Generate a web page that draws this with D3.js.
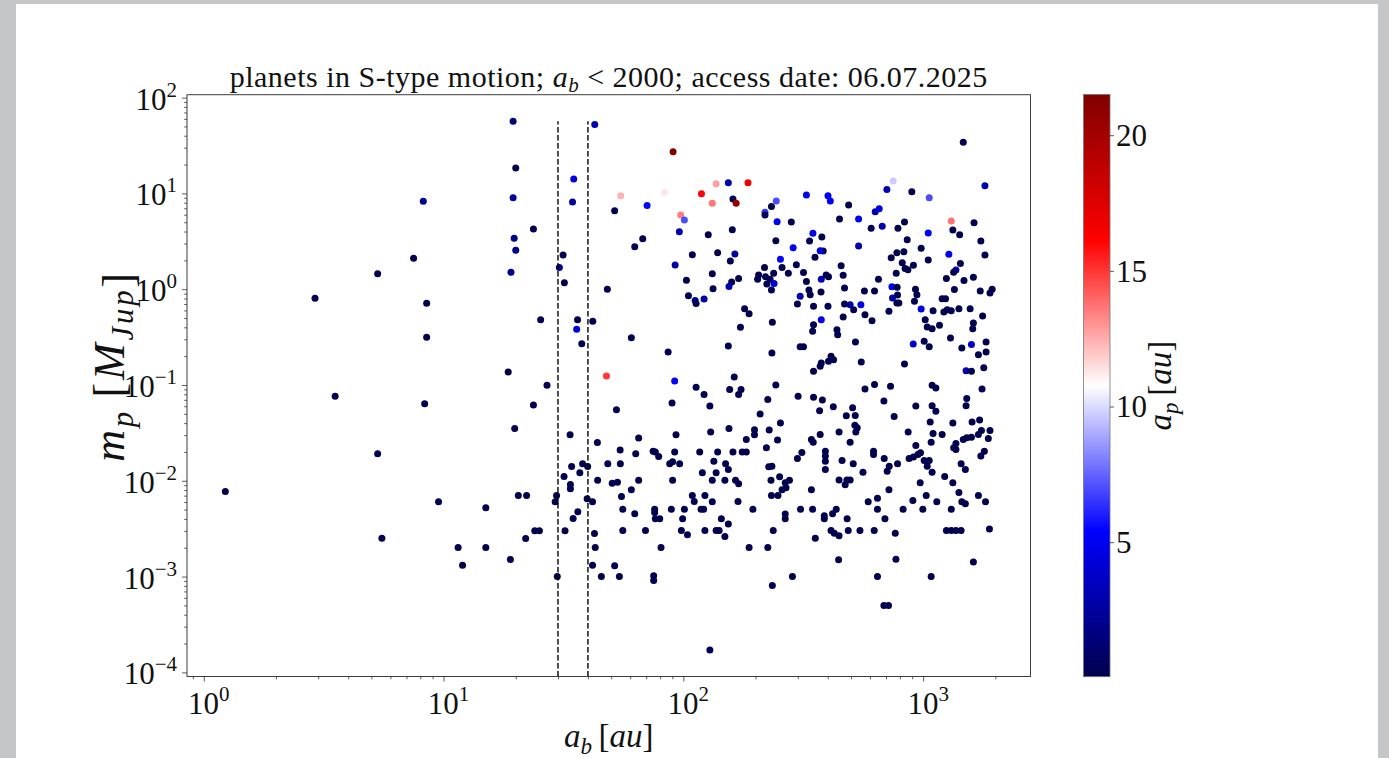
<!DOCTYPE html>
<html>
<head>
<meta charset="utf-8">
<script src="https://cdn.jsdelivr.net/npm/d3@7"></script>
<style>
  html, body { margin: 0; padding: 0; background: #c4c6c8; }
  svg { display: block; }
  text { font-family: "Liberation Serif", "DejaVu Serif", serif; fill: #111; }
</style>
</head>
<body>
<svg id="chart" width="1389" height="758"></svg>
<script>
// Binary separation a_b [au] of each S-type planet host
const binarySeparation = [
  1.23, 2.91, 3.53, 5.31, 5.31, 5.53, 7.50, 8.23, 8.50, 8.50,
  8.34, 9.53, 11.5, 12.0, 15.0, 15.0, 18.6, 19.0, 19.5, 20.0,
  19.5, 19.7, 20.0, 19.1, 19.8, 20.5, 22.2, 22.0, 23.7, 23.7,
  24.0, 25.1, 25.4, 27.0, 29.6, 29.2, 29.8, 31.5, 30.4, 31.9,
  31.8, 32.1, 34.2, 33.8, 33.8, 33.7, 34.9, 34.5, 36.2, 35.9,
  37.7, 36.3, 34.7, 37.0, 38.0, 39.9, 39.7, 41.8, 41.9, 42.7,
  42.6, 42.9, 41.8, 43.8, 43.9, 45.5, 90.6, 54.8, 51.7, 70.6,
  83.6, 119, 137, 154, 186, 132, 161, 166, 97.5, 101,
  96.2, 67.7, 62.7, 127, 160, 109, 139, 164, 157, 92.4,
  132, 103, 48.2, 133, 170, 159, 155, 233, 244, 219,
  219, 246, 282, 326, 243, 287, 336, 347, 254, 218,
  258, 296, 354, 206, 220, 238, 230, 204, 223, 239,
  274, 317, 326, 233, 334, 1470, 1810, 750, 706, 897,
  1060, 401, 410, 489, 631, 656, 448, 538, 836, 607,
  675, 785, 1310, 1630, 1330, 1420, 1050, 858, 378, 1740,
  538, 981, 383, 372, 1280, 1810, 777, 831, 736, 1050,
  818, 455, 1430, 1370, 1340, 841, 864, 911, 772, 464,
  394, 403, 376, 651, 1250, 1480, 1620, 470, 741, 779,
  569, 627, 929, 1350, 1730, 1940, 375, 105, 112, 113,
  122, 307, 338, 299, 349, 180, 188, 235, 173, 60.7,
  349, 346, 154, 86.4, 234, 307, 317, 349, 47.8, 92.0,
  163, 113, 122, 156, 174, 170, 243, 225, 301, 349,
  89.7, 129, 52.6, 209, 254, 130, 155, 198, 198, 228,
  93.2, 65.1, 183, 247, 342, 348, 54.5, 63.3, 74.8, 76.4,
  78.9, 92.0, 117, 139, 161, 176, 183, 222, 312, 299,
  48.4, 54.6, 87.7, 90.2, 96.5, 134, 150, 154, 137, 120,
  227, 234, 252, 50.5, 53.1, 65.1, 90.2, 132, 149, 165,
  170, 232, 277, 266, 782, 942, 1900, 401, 470, 496,
  513, 550, 745, 777, 792, 720, 920, 981, 1100, 1200,
  1240, 1220, 1260, 1310, 1410, 1570, 1770, 376, 464, 572,
  612, 1020, 1040, 1090, 1170, 1620, 1610, 437, 440, 522,
  909, 1010, 1060, 1300, 1450, 1590, 1830, 1700, 1830, 413,
  423, 403, 376, 372, 552, 836, 1510, 1590, 1790, 627,
  572, 731, 1090, 1130, 1760, 380, 686, 1520, 1510, 932,
  1090, 1130, 422, 370, 508, 521, 478, 757, 1070, 1330,
  1600, 1720, 519, 531, 524, 446, 372, 866, 1100, 1200,
  1700, 1750, 1900, 1870, 1470, 1520, 1590, 1080, 496, 932,
  1370, 1340, 1370, 391, 391, 391, 391, 621, 621, 688,
  459, 511, 874, 911, 951, 975, 1010, 1060, 1040, 1090,
  722, 708, 782, 561, 1440, 1500, 1740, 1800, 1230, 446,
  481, 496, 972, 1330, 258, 268, 55.2, 60.7, 55.9, 62.7,
  75.9, 75.9, 76.4, 79.7, 89.1, 101, 99.3, 109, 111, 123,
  132, 118.5, 121.5, 144, 154, 169, 195, 233, 248, 266,
  266, 308, 342, 346, 355, 55.9, 69.5, 98.1, 104, 123,
  137, 141, 149, 237, 80.7, 188, 225, 51.7, 54.1, 75.2,
  75.2, 285, 235, 129, 473, 720, 1410, 1030, 1700, 1820,
  1450, 1500, 1140, 906, 997, 1310, 825, 645, 590, 645,
  693, 434, 419, 387, 387, 482, 413, 426, 446, 487,
  545, 625, 765, 1250, 1310, 1370, 1440, 1890, 444, 770,
  1620, 645, 1080, 686, 717
];

// Planet mass m_p [M_Jup]
const planetMass = [
  0.00773, 0.804, 0.0764, 1.45, 0.0191, 0.00252, 2.10, 8.26, 0.713, 0.315,
  0.0639, 0.00604, 0.00201, 0.00131, 0.00522, 0.00201, 0.137, 0.00151, 56.8, 18.4,
  9.00, 3.40, 2.55, 1.50, 0.0351, 0.00702, 0.00702, 0.00250, 4.25, 0.0620,
  0.00301, 0.00301, 0.481, 0.0995, 0.00702, 0.00604, 0.00100, 2.27, 1.68, 1.17,
  0.0111, 0.00301, 0.0141, 0.00914, 0.00825, 0.0302, 14.1, 8.12, 0.481, 0.382,
  0.270, 0.00475, 0.00404, 0.0121, 0.0151, 0.0141, 0.00648, 0.00604, 0.463, 52.5,
  0.00282, 0.00201, 0.00131, 0.0251, 0.0101, 0.00100, 27.2, 9.45, 6.59, 7.50,
  10.3, 9.91, 12.6, 12.9, 12.9, 7.87, 8.73, 7.87, 5.94, 5.27,
  3.98, 3.36, 2.78, 3.70, 4.17, 2.29, 2.40, 2.33, 1.97, 1.79,
  1.45, 1.24, 1.00, 1.01, 1.29, 1.19, 1.07, 7.32, 8.32, 6.34,
  5.94, 5.06, 5.02, 9.61, 3.21, 2.71, 3.18, 3.83, 2.05, 1.68,
  1.68, 1.80, 2.15, 1.41, 1.35, 1.47, 1.27, 1.27, 1.13, 1.15,
  1.47, 1.49, 1.20, 0.981, 0.981, 34.1, 12.0, 13.5, 11.0, 10.4,
  9.00, 9.45, 8.32, 7.56, 6.43, 6.91, 5.40, 5.40, 5.02, 4.32,
  4.53, 4.32, 5.14, 4.94, 4.14, 3.70, 3.86, 3.28, 3.50, 3.18,
  2.82, 2.67, 2.50, 2.52, 2.31, 2.27, 2.40, 2.46, 2.13, 2.02,
  1.89, 1.76, 1.85, 1.59, 1.50, 1.64, 1.60, 1.78, 1.47, 1.40,
  1.41, 1.35, 1.27, 1.27, 1.29, 1.23, 1.33, 1.03, 1.06, 1.05,
  0.958, 0.958, 1.00, 0.993, 0.958, 1.00, 0.935, 0.855, 0.762, 0.709,
  0.790, 0.843, 0.876, 0.701, 0.663, 0.626, 0.555, 0.452, 0.401, 0.312,
  0.426, 0.364, 0.256, 0.221, 0.216, 0.250, 0.250, 0.139, 0.124, 0.110,
  0.121, 0.0948, 0.0794, 0.0895, 0.0895, 0.0794, 0.100, 0.0704, 0.0764, 0.0746,
  0.0650, 0.0605, 0.0553, 0.0499, 0.0402, 0.0324, 0.0351, 0.0342, 0.0302, 0.0340,
  0.0302, 0.0279, 0.0269, 0.0267, 0.0269, 0.0253, 0.0210, 0.0192, 0.0204, 0.0200,
  0.0179, 0.0200, 0.0200, 0.0200, 0.0200, 0.0200, 0.0200, 0.0221, 0.0197, 0.0171,
  0.0151, 0.0151, 0.0151, 0.0158, 0.0151, 0.0160, 0.0151, 0.0131, 0.0121, 0.0121,
  0.0140, 0.0142, 0.0110, 0.00941, 0.00968, 0.0101, 0.0101, 0.0101, 0.0101, 0.0101,
  0.00930, 0.0101, 0.0101, 0.00952, 0.870, 0.876, 0.913, 0.663, 0.701, 0.689,
  0.611, 0.689, 0.810, 0.718, 0.718, 0.588, 0.748, 0.622, 0.597, 0.796,
  0.796, 0.578, 0.611, 0.597, 0.626, 0.626, 0.525, 0.481, 0.513, 0.542,
  0.469, 0.481, 0.404, 0.387, 0.420, 0.444, 0.387, 0.378, 0.335, 0.281,
  0.268, 0.286, 0.250, 0.310, 0.244, 0.264, 0.281, 0.207, 0.221, 0.200,
  0.184, 0.177, 0.170, 0.157, 0.174, 0.166, 0.141, 0.139, 0.151, 0.101,
  0.0910, 0.0971, 0.0995, 0.0932, 0.0910, 0.0699, 0.0682, 0.0721, 0.0609, 0.0605,
  0.0609, 0.0533, 0.0591, 0.0540, 0.0577, 0.0479, 0.0477, 0.0468, 0.0412, 0.0402,
  0.0412, 0.0432, 0.0381, 0.0357, 0.0324, 0.0324, 0.0304, 0.0324, 0.0311, 0.0304,
  0.0304, 0.0334, 0.0334, 0.0276, 0.0269, 0.0281, 0.0285, 0.0253, 0.0253, 0.0233,
  0.0245, 0.0221, 0.0212, 0.0204, 0.0181, 0.0160, 0.0131, 0.0204, 0.0188, 0.0171,
  0.0163, 0.0151, 0.0171, 0.0177, 0.0188, 0.0196, 0.0163, 0.0163, 0.0142, 0.0123,
  0.0142, 0.0126, 0.0151, 0.0123, 0.0151, 0.0131, 0.0181, 0.0204, 0.0111, 0.0102,
  0.0102, 0.0102, 0.00952, 0.00952, 0.00805, 0.00845, 0.00685, 0.00805, 0.00506, 0.00452,
  0.00506, 0.00467, 0.00401, 0.00401, 0.00506, 0.00506, 0.00401, 0.00702, 0.00608, 0.00702,
  0.00604, 0.00506, 0.00506, 0.00401, 0.00353, 0.00608, 0.00506, 0.00702, 0.00702, 0.00449,
  0.00401, 0.00506, 0.00805, 0.00506, 0.00252, 0.00303, 0.00303, 0.00303, 0.00273, 0.00303,
  0.00303, 0.00303, 0.00262, 0.00303, 0.00201, 0.00201, 0.00201, 0.00130, 0.00100, 0.00102,
  0.000911, 0.00100, 0.000808, 0.000171, 0.00908, 0.00805, 0.00754, 0.00702, 0.00702, 0.00604,
  0.00604, 0.00575, 0.00604, 0.00622, 0.00506, 0.00506, 0.00506, 0.00659, 0.00604, 0.00506,
  0.00401, 0.00506, 0.00452, 0.00431, 0.00401, 0.00401, 0.00303, 0.00284, 0.00267, 0.00303,
  0.00303, 0.00303, 0.00284, 0.00303, 0.00303, 0.00303, 0.00303, 0.00313, 0.00150, 0.00152,
  0.00142, 0.00100, 0.00100, 0.000500, 0.000500
];

// Planet semi-major axis a_p [au], shown as marker colour
const planetOrbit = [
  0.04, 0.1, 0.1, 0.1, 0.1, 0.1, 0.1, 2, 0.1, 0.1,
  0.1, 0.1, 0.1, 0.1, 0.1, 0.1, 0.1, 0.1, 1.5, 0.1,
  2.5, 2, 2, 2, 0.1, 0.1, 0.1, 0.1, 0.1, 0.1,
  0.1, 0.1, 0.1, 0.1, 0.1, 0.1, 0.1, 0.1, 2, 0.1,
  0.1, 0.1, 0.1, 0.1, 0.1, 0.1, 4.5, 2.5, 0.1, 4.5,
  0.1, 0.1, 0.1, 0.1, 0.1, 0.1, 0.1, 0.1, 0.1, 3,
  0.1, 0.1, 0.1, 0.1, 0.1, 0.1, 21.5, 12.4, 0.1, 5.5,
  11.3, 16, 12.8, 3, 16.5, 13.7, 0.1, 20.5, 13.5, 7,
  3, 0.1, 0.1, 0.1, 0.1, 0.1, 0.1, 2.5, 0.1, 2.5,
  0.1, 0.1, 0.1, 0.1, 0.1, 0.1, 3, 0.1, 7, 6.5,
  0.1, 5, 0.1, 5, 0.1, 5, 0.1, 5, 5.5, 0.1,
  0.1, 0.1, 0.1, 0.1, 0.1, 0.1, 0.1, 0.1, 0.1, 4.5,
  0.1, 0.1, 0.1, 0.1, 0.1, 0.1, 3, 9.7, 3, 0.1,
  7, 5, 5, 0.1, 3, 4.5, 0.1, 5, 0.1, 0.1,
  3, 0.1, 13.7, 0.1, 0.1, 0.1, 5, 0.1, 0.1, 0.1,
  3, 0.1, 0.1, 4.5, 5, 0.1, 0.1, 0.1, 0.1, 0.1,
  0.1, 0.1, 0.1, 3, 0.1, 0.1, 0.1, 0.1, 0.1, 0.1,
  0.1, 0.1, 3, 0.1, 0.1, 0.1, 0.1, 0.1, 5, 0.1,
  0.1, 0.1, 0.1, 0.1, 0.1, 0.1, 0.1, 0.1, 2, 0.1,
  2.5, 3, 0.1, 0.1, 0.1, 0.1, 0.1, 0.1, 0.1, 0.1,
  0.1, 0.1, 0.1, 0.1, 0.1, 0.1, 0.1, 0.1, 15, 5,
  0.1, 0.1, 0.1, 0.1, 0.1, 0.1, 0.1, 0.1, 0.1, 0.1,
  0.1, 0.1, 0.1, 0.1, 0.1, 0.1, 0.1, 0.1, 0.1, 0.1,
  0.1, 0.1, 0.1, 0.1, 0.1, 0.1, 0.1, 0.1, 0.1, 0.1,
  0.1, 0.1, 0.1, 0.1, 0.1, 0.1, 0.1, 0.1, 0.1, 0.1,
  0.1, 0.1, 0.1, 0.1, 0.1, 0.1, 0.1, 0.1, 0.1, 0.1,
  0.1, 0.1, 0.1, 0.1, 0.1, 0.1, 0.1, 0.1, 0.1, 0.1,
  0.1, 0.1, 0.1, 0.1, 0.1, 0.1, 0.1, 0.1, 0.1, 2.5,
  0.1, 4.5, 2.5, 0.1, 0.1, 0.1, 0.1, 4.5, 0.1, 0.1,
  0.1, 0.1, 0.1, 0.1, 0.1, 0.1, 0.1, 5, 0.1, 0.1,
  0.1, 0.1, 0.1, 0.1, 0.1, 0.1, 0.1, 0.1, 0.1, 0.1,
  4, 0.1, 0.1, 0.1, 0.1, 4, 0.1, 0.1, 0.1, 0.1,
  0.1, 0.1, 0.1, 0.1, 0.1, 0.1, 3, 0.1, 0.1, 0.1,
  0.1, 0.1, 0.1, 0.1, 0.1, 0.1, 0.1, 0.1, 0.1, 0.1,
  0.1, 0.1, 0.1, 0.1, 0.1, 0.1, 0.1, 0.1, 0.1, 0.1,
  0.1, 0.1, 0.1, 0.1, 0.1, 0.1, 0.1, 0.1, 0.1, 0.1,
  0.1, 0.1, 0.1, 0.1, 0.1, 0.1, 0.1, 0.1, 0.1, 0.1,
  0.1, 0.1, 0.1, 0.1, 0.1, 0.1, 0.1, 0.1, 0.1, 0.1,
  0.1, 0.1, 0.1, 0.1, 0.1, 0.1, 0.1, 0.1, 0.1, 0.1,
  0.1, 0.1, 0.1, 0.1, 0.1, 0.1, 0.1, 0.1, 0.1, 0.1,
  0.1, 0.1, 0.1, 0.1, 0.1, 0.1, 0.1, 0.1, 0.1, 0.1,
  0.1, 0.1, 0.1, 0.1, 0.1, 0.1, 0.1, 0.1, 0.1, 0.1,
  0.1, 0.1, 0.1, 0.1, 0.1, 0.1, 0.1, 0.1, 0.1, 0.1,
  0.1, 0.1, 0.1, 0.1, 0.1, 0.1, 0.1, 0.1, 0.1, 0.1,
  0.1, 0.1, 0.1, 0.1, 0.1, 0.1, 0.1, 0.1, 0.1, 0.1,
  0.1, 0.1, 0.1, 0.1, 0.1, 0.1, 0.1, 0.1, 0.1, 0.1,
  0.1, 0.1, 0.1, 0.1, 0.1, 0.1, 0.1, 0.1, 0.1, 0.1,
  0.1, 0.1, 0.1, 0.1, 0.1, 0.1, 0.1, 0.1, 0.1, 0.1,
  0.1, 0.1, 0.1, 0.1, 0.1, 0.1, 0.1, 0.1, 0.1, 0.1,
  0.1, 0.1, 0.1, 0.1, 0.1
];

// Reference separations marked by dashed lines [au]
const separationMarks = [30, 40];

// Tick values
const xMajorTicks = [1, 10, 100, 1000];
const yMajorTicks = [1e-4, 1e-3, 1e-2, 1e-1, 1, 10, 100];
const colorbarTicks = [5, 10, 15, 20];

// Seismic colour map stops (low -> high)
const seismicColors = ["#00004d", "#0000ff", "#ffffff", "#ff0000", "#800000"];

// ---------------------------------------------------------------------------
const svg = d3.select("#chart");
const frame = { left: 187, right: 1030.5, top: 94.7, bottom: 676.5 };
const cbar = { left: 1083.5, right: 1110, top: 94.5, bottom: 676.7 };

// light figure panel on the grey page
svg.append("rect").attr("x", 16).attr("y", 4).attr("width", 1362).attr("height", 760)
  .attr("fill", "#ffffff");

// log domain padded by 5% of the data span on each side
function paddedLogDomain(values) {
  const [lo, hi] = d3.extent(values).map(Math.log10);
  const pad = (hi - lo) * 0.05;
  return [Math.pow(10, lo - pad), Math.pow(10, hi + pad)];
}

function minorTicks(scale) {
  const [lo, hi] = scale.domain();
  const out = [];
  for (let e = Math.floor(Math.log10(lo)); e <= Math.ceil(Math.log10(hi)); e++) {
    for (let m = 2; m <= 9; m++) {
      const v = m * Math.pow(10, e);
      if (v >= lo && v <= hi) out.push(v);
    }
  }
  return out;
}

const x = d3.scaleLog().domain(paddedLogDomain(binarySeparation)).range([frame.left, frame.right]);
const y = d3.scaleLog().domain(paddedLogDomain(planetMass)).range([frame.bottom, frame.top]);

const apExtent = d3.extent(planetOrbit);
const colorStops = seismicColors.map((c, i) => apExtent[0] + i * (apExtent[1] - apExtent[0]) / (seismicColors.length - 1));
const color = d3.scaleLinear().domain(colorStops).range(seismicColors)
  .interpolate(d3.interpolateRgb).clamp(true);

const points = binarySeparation.map((ab, i) => ({ ab, mp: planetMass[i], ap: planetOrbit[i] }));

// ---- markers
svg.append("g").selectAll("circle").data(points).join("circle")
  .attr("cx", d => x(d.ab))
  .attr("cy", d => y(d.mp))
  .attr("r", 3.5)
  .attr("fill", d => color(d.ap));

// ---- dashed separation markers
svg.append("g").selectAll("line").data(separationMarks).join("line")
  .attr("x1", d => x(d)).attr("x2", d => x(d))
  .attr("y1", frame.bottom).attr("y2", y(d3.max(planetMass)))
  .attr("stroke", "#000").attr("stroke-width", 1.4)
  .attr("stroke-dasharray", "5.5,2.5");

// ---- axes (tick marks)
function styleAxis(g) {
  g.select(".domain").remove();
  g.selectAll(".tick line").attr("stroke", "#333").attr("stroke-width", 0.8);
  g.selectAll(".tick text").remove();
}
svg.append("g").attr("transform", `translate(0,${frame.bottom})`)
  .call(d3.axisBottom(x).tickValues(xMajorTicks).tickSize(5).tickFormat(() => "")).call(styleAxis);
svg.append("g").attr("transform", `translate(0,${frame.bottom})`)
  .call(d3.axisBottom(x).tickValues(minorTicks(x)).tickSize(2.8).tickFormat(() => "")).call(styleAxis);
svg.append("g").attr("transform", `translate(${frame.left},0)`)
  .call(d3.axisLeft(y).tickValues(yMajorTicks).tickSize(5).tickFormat(() => "")).call(styleAxis);
svg.append("g").attr("transform", `translate(${frame.left},0)`)
  .call(d3.axisLeft(y).tickValues(minorTicks(y)).tickSize(2.8).tickFormat(() => "")).call(styleAxis);

// frame
svg.append("rect")
  .attr("x", frame.left).attr("y", frame.top)
  .attr("width", frame.right - frame.left).attr("height", frame.bottom - frame.top)
  .attr("fill", "none").attr("stroke", "#3c3c3c").attr("stroke-width", 1);

// ---- power-of-ten tick labels
function powerLabel(sel, v) {
  const e = Math.round(Math.log10(v));
  sel.append("tspan").text("10");
  sel.append("tspan").attr("dy", -13).attr("font-size", 21)
    .text(e < 0 ? "\u2212" + (-e) : String(e));
}
svg.append("g").selectAll("text").data(xMajorTicks).join("text")
  .attr("x", d => x(d) + 5).attr("y", frame.bottom + 37)
  .attr("text-anchor", "middle").attr("font-size", 31)
  .each(function (d) { powerLabel(d3.select(this), d); });
svg.append("g").selectAll("text").data(yMajorTicks).join("text")
  .attr("x", frame.left - 10).attr("y", d => y(d) + 12)
  .attr("text-anchor", "end").attr("font-size", 31)
  .each(function (d) { powerLabel(d3.select(this), d); });

// ---- title
const title = svg.append("text")
  .attr("x", (frame.left + frame.right) / 2).attr("y", 87)
  .attr("text-anchor", "middle").attr("font-size", 30).attr("letter-spacing", 0.5);
title.append("tspan").text("planets in S-type motion; ");
title.append("tspan").attr("font-style", "italic").text("a");
title.append("tspan").attr("font-style", "italic").attr("font-size", 21).attr("dy", 5).text("b");
title.append("tspan").attr("dy", -5).text(" < 2000; access date: 06.07.2025");

// ---- axis labels
function subscriptLabel(sel, base, sub, unit, size) {
  const s = size * 0.7;
  sel.append("tspan").attr("font-style", "italic").text(base);
  sel.append("tspan").attr("font-style", "italic").attr("font-size", s).attr("dy", size * 0.2).text(sub);
  sel.append("tspan").attr("dy", -size * 0.2).text("\u2009[");
  unit(sel, size);
  sel.append("tspan").text("]");
}
const xLabel = svg.append("text")
  .attr("x", (frame.left + frame.right) / 2).attr("y", 747)
  .attr("text-anchor", "middle").attr("font-size", 33);
subscriptLabel(xLabel, "a", "b", (s) => s.append("tspan").attr("font-style", "italic").text("au"), 33);

const yLabel = svg.append("text")
  .attr("transform", "translate(124,366) rotate(-90)")
  .attr("text-anchor", "middle").attr("font-size", 44).attr("letter-spacing", 2.8);
subscriptLabel(yLabel, "m", "p", (s, size) => {
  s.append("tspan").attr("font-style", "italic").text("M");
  s.append("tspan").attr("font-style", "italic").attr("font-size", size * 0.7).attr("dy", size * 0.2).text("Jup");
  s.append("tspan").attr("dy", -size * 0.2).text("");
}, 44);

// ---- colour bar
const cbScale = d3.scaleLinear().domain(apExtent).range([cbar.bottom, cbar.top]);
const grad = svg.append("defs").append("linearGradient")
  .attr("id", "seismic").attr("x1", 0).attr("y1", 1).attr("x2", 0).attr("y2", 0);
grad.selectAll("stop").data(colorStops).join("stop")
  .attr("offset", (d, i) => i / (colorStops.length - 1))
  .attr("stop-color", d => color(d));
svg.append("rect")
  .attr("x", cbar.left).attr("y", cbar.top)
  .attr("width", cbar.right - cbar.left).attr("height", cbar.bottom - cbar.top)
  .attr("fill", "url(#seismic)").attr("stroke", "#777").attr("stroke-width", 0.8);

const cbAxis = svg.append("g").attr("transform", `translate(${cbar.right},0)`)
  .call(d3.axisRight(cbScale).tickValues(colorbarTicks).tickSize(4).tickFormat(() => ""));
cbAxis.select(".domain").remove();
cbAxis.selectAll(".tick line").attr("stroke", "#333").attr("stroke-width", 0.8);
svg.append("g").selectAll("text").data(colorbarTicks).join("text")
  .attr("x", cbar.right + 6).attr("y", d => cbScale(d) + 11)
  .attr("font-size", 31).text(d => d);

const cbLabel = svg.append("text")
  .attr("transform", `translate(1171,${(cbar.top + cbar.bottom) / 2}) rotate(-90)`)
  .attr("text-anchor", "middle").attr("font-size", 33);
subscriptLabel(cbLabel, "a", "p", (s) => s.append("tspan").attr("font-style", "italic").text("au"), 33);
</script>
</body>
</html>
